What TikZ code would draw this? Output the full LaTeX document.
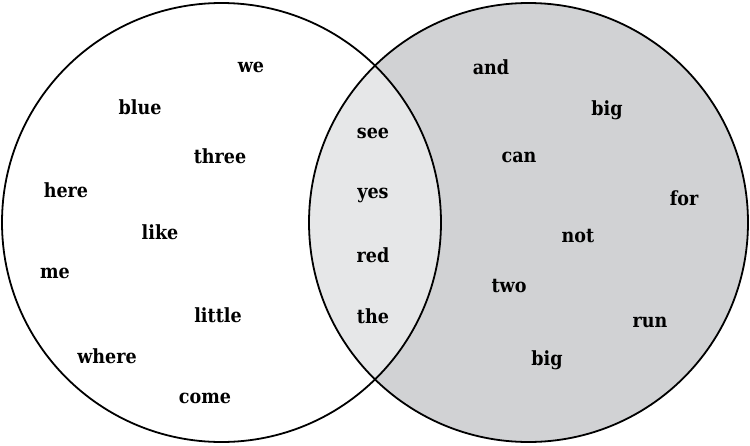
\documentclass[tikz,border=0pt]{standalone}
\usepackage{fontspec}
\setmainfont{DejaVu Serif Condensed}
\definecolor{rightgray}{HTML}{D1D2D4}
\definecolor{lensgray}{HTML}{E6E7E8}
\begin{document}
\begin{tikzpicture}[x=1pt,y=-1pt,
  word/.style={font=\bfseries\fontsize{19.5}{22}\selectfont, text=black, inner sep=0pt},
  ring/.style={draw=black, line width=1.8pt}]
\useasboundingbox (0,0) rectangle (750,445);
\coordinate (L) at (221.5,222.5);
\coordinate (R) at (528.5,222.5);
\fill[rightgray] (R) circle (219.5);
\begin{scope}
  \clip (L) circle (219.5);
  \fill[lensgray] (R) circle (219.5);
\end{scope}
\draw[ring] (L) circle (219.5);
\draw[ring] (R) circle (219.5);
% left
\node[word] (w1) at (251,67) {we};
\node[word] (w2) at (140,107) {blue};
\node[word] (w3) at (220,156) {three};
\node[word] (w4) at (66,190) {here};
\node[word] (w5) at (160,232) {like};
\node[word] (w6) at (55,273) {me};
\node[word] (w7) at (218,315) {little};
\node[word] (w8) at (107,356) {where};
\node[word] (w9) at (205,398) {come};
% middle
\node[word] (m1) at (373,133) {see};
\node[word] (m2) at (373,195) {yes};
\node[word] (m3) at (373,255) {red};
\node[word] (m4) at (373,316) {the};
% right
\node[word] (r1) at (491,67) {and};
\node[word] (r2) at (607,110) {big};
\node[word] (r3) at (519,157) {can};
\node[word] (r4) at (684,198) {for};
\node[word] (r5) at (578,236) {not};
\node[word] (r6) at (509,286) {two};
\node[word] (r7) at (650,322) {run};
\node[word] (r8) at (547,360) {big};
\end{tikzpicture}
\end{document}
